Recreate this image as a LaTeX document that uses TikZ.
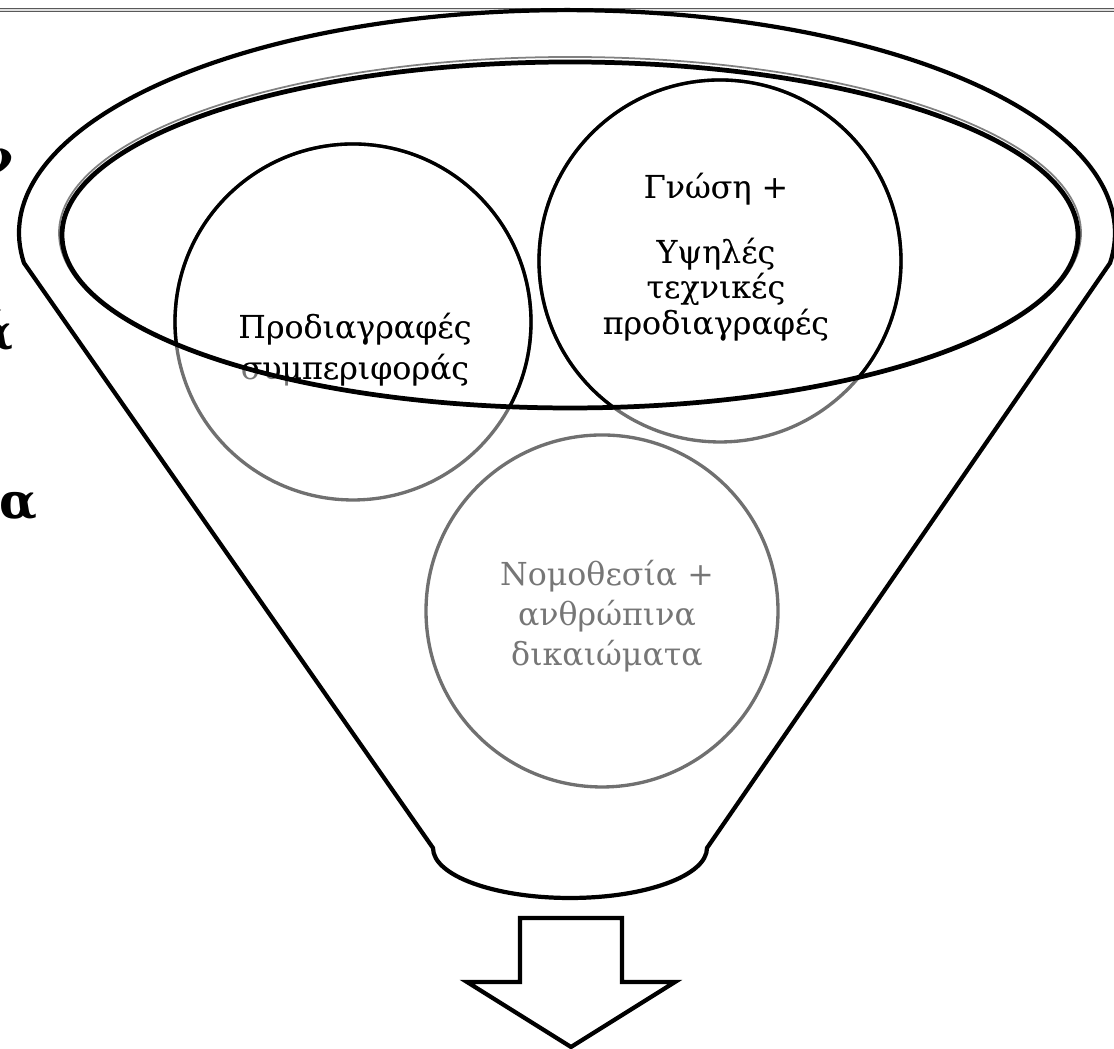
\documentclass[tikz,border=0pt]{standalone}
\usepackage{fontspec}
\newfontfamily\greekserif{DejaVu Serif}
\usepackage{tikz}
\usetikzlibrary{calc}

\definecolor{ringgray}{RGB}{112,112,112}
\definecolor{textgray}{RGB}{118,118,118}

\newcommand{\behavtext}{Προδιαγραφές\\συμπεριφοράς}
\newcommand{\knowtext}{Γνώση +\\[8.5pt]Υψηλές\\τεχνικές\\προδιαγραφές}
\newcommand{\lawtext}{Νομοθεσία +\\ανθρώπινα\\δικαιώματα}

\tikzset{
	funnelline/.style={line width=1.2pt, draw=black, line join=round},
	ring/.style={circle, draw=ringgray, line width=0.95pt, minimum size=#1, inner sep=0pt},
	ringtxt/.style={align=center, inner sep=0pt, text=textgray, font=\greekserif\fontsize{9}{#1}\selectfont},
	cutletter/.style={anchor=base east, inner sep=0pt, font=\greekserif\bfseries\fontsize{14}{16}\selectfont}
}

\begin{document}
\begin{tikzpicture}
	\useasboundingbox (0,0) rectangle (11.14,10.49);
	
	%top rule
	\draw[draw=gray!70!black, double=gray!25, line width=0.35pt, double distance=0.45pt] (0,10.39) -- (11.14,10.39);
	
	%letters cut off at the left edge
	\node[cutletter] (cutnu) at (0.14,8.74) {ν};
	\node[cutletter] (cutalphaacc) at (0.14,6.99) {ά};
	\node[cutletter] (cutalpha) at (0.38,5.30) {α};
	
	%circles
	\node[ring=3.56cm] (behaviour) at (3.53,7.27) {};
	\node[ring=3.62cm] (knowledge) at (7.20,7.88) {};
	\node[ring=3.52cm] (law) at (6.02,4.38) {};
	
	%circle texts
	\node[ringtxt=11.6] (behaviourtxt) at (3.55,6.99) {\behavtext};
	\node[ringtxt=8.5] (knowledgetxt) at (7.16,7.92) {\knowtext};
	\node[ringtxt=11.3] (lawtxt) at (6.07,4.33) {\lawtext};
	
	%same again in black inside the ellipse
	\begin{scope}
		\clip (5.70,8.14) ellipse [x radius=5.08, y radius=1.73];
		\node[ring=3.56cm, draw=black] (behaviourin) at (behaviour) {};
		\node[ring=3.62cm, draw=black] (knowledgein) at (knowledge) {};
		\node[ringtxt=11.6, text=black] (behaviourtxtin) at (behaviourtxt) {\behavtext};
		\node[ringtxt=8.5, text=black] (knowledgetxtin) at (knowledgetxt) {\knowtext};
	\end{scope}
	
	%ellipse
	\draw[gray, line width=0.5pt] (5.70,8.16) ellipse [x radius=5.11, y radius=1.76];
	\draw[funnelline, line width=1.35pt] (5.70,8.14) ellipse [x radius=5.08, y radius=1.73];
	
	%funnel
	\draw[funnelline] (0.24,7.86) arc [start angle=187.7, end angle=-7.7, x radius=5.48, y radius=2.23]
		-- (7.07,2.01) arc [start angle=0, end angle=-180, x radius=1.37, y radius=0.50] -- cycle;
	
	%arrow
	\draw[funnelline, line join=miter] (5.20,1.31) -- (6.22,1.31) -- (6.22,0.67) -- (6.75,0.67)
		-- (5.71,0.02) -- (4.67,0.67) -- (5.20,0.67) -- cycle;
\end{tikzpicture}
\end{document}
